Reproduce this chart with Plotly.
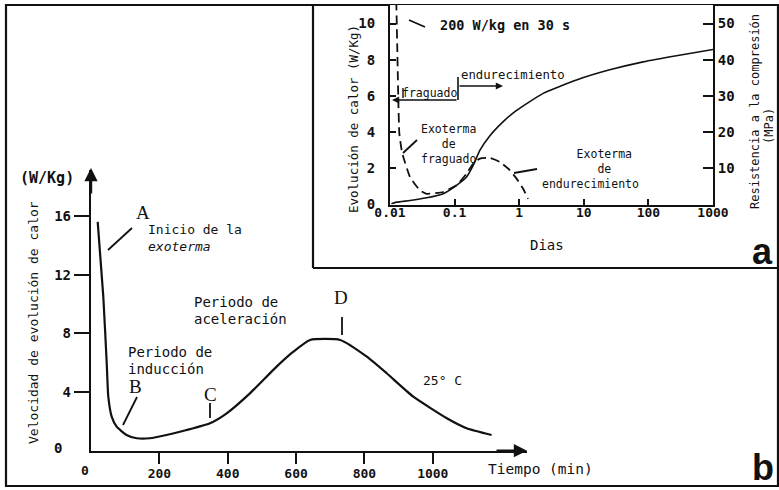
import plotly.graph_objects as go

# ---------------- data ----------------
# Main chart (b): heat evolution rate vs time
tiempo_min = [19.6, 36, 46, 50.6, 60.5, 75, 104, 134, 172, 221, 280, 348, 397, 465, 543, 592, 641,
              729, 807, 865, 943, 1041, 1099, 1172]
velocidad_wkg = [15.6, 10.5, 5.96, 3.68, 2.32, 1.64, 1.07, 0.85, 0.85, 1.07, 1.41, 1.87, 2.55, 3.91,
                 5.73, 6.75, 7.55, 7.55, 6.41, 5.28, 3.68, 2.21, 1.53, 1.07]
main_xticks = [200, 400, 600, 800, 1000]
main_yticks = [4, 8, 12, 16]

# Inset (a): heat evolution (dashed, left axis) and compressive strength (solid, right axis)
dias_calor = [0.01239, 0.01297, 0.01345, 0.01394, 0.01514, 0.01607, 0.0204, 0.0291, 0.0369, 0.0668,
              0.107, 0.153, 0.194, 0.247, 0.352, 0.502, 0.718, 0.91, 1.15, 1.37]
calor_wkg = [12.0, 8.56, 5.78, 3.93, 3.0, 2.63, 1.52, 0.78, 0.59, 0.69,
             1.06, 1.7, 2.26, 2.54, 2.57, 2.35, 1.89, 1.43, 0.87, 0.31]
dias_resist = [0.0105, 0.0127, 0.0204, 0.0369, 0.0668, 0.107, 0.153, 0.194, 0.247, 0.352, 0.566,
               0.91, 2.35, 7.7, 25.2, 82.8, 271, 1000]
resist_mpa = [0.2, 0.65, 1.1, 1.85, 3.0, 5.3, 7.6, 10.8, 15.0, 19.0, 22.9,
              26.0, 30.7, 34.4, 37.2, 39.4, 41.1, 42.8]
inset_xticks = [0.01, 0.1, 1, 10, 100, 1000]
inset_xticktext = ["0.01", "0.1", "1", "10", "100", "1000"]
inset_yticks_left = [0, 2, 4, 6, 8, 10]
inset_yticks_right = [10, 20, 30, 40, 50]

W, H = 779, 490
def PX(x):
    return x / W
def PY(y):
    return 1 - y / H

MONO = "DejaVu Sans Mono"
BLK = "#111111"

fig = go.Figure()

fig.add_trace(go.Scatter(x=tiempo_min, y=velocidad_wkg, mode="lines",
                         line=dict(color=BLK, width=2.2, shape="spline", smoothing=0.5),
                         xaxis="x", yaxis="y", showlegend=False, hoverinfo="skip"))
fig.add_trace(go.Scatter(x=dias_calor, y=calor_wkg, mode="lines",
                         line=dict(color=BLK, width=1.8, dash="9px,5px", shape="spline", smoothing=0.4),
                         xaxis="x2", yaxis="y2", showlegend=False, hoverinfo="skip"))
fig.add_trace(go.Scatter(x=dias_resist, y=resist_mpa, mode="lines",
                         line=dict(color=BLK, width=1.6, shape="spline", smoothing=0.5),
                         xaxis="x2", yaxis="y3", showlegend=False, hoverinfo="skip"))

# Main axes geometry
mx0, mx1 = 91, 527
my0, my1 = 450.7, 170
mxscale = 0.3418
myscale = 14.67
# Inset geometry
ix0, ix1 = 390, 713
iy0, iy1 = 204.5, 5
iyscale = 18.1

tick_font = dict(size=13, family=MONO, color=BLK, weight="bold")

fig.update_layout(
    template="none",
    width=W, height=H,
    margin=dict(l=0, r=0, t=0, b=0, pad=0, autoexpand=False),
    paper_bgcolor="white", plot_bgcolor="white",
    font=dict(family=MONO, color=BLK),
    xaxis=dict(domain=[PX(mx0), PX(mx1)], range=[0, (mx1 - mx0) / mxscale], anchor="y",
               automargin=False, showgrid=False, zeroline=False, showline=True, linewidth=2.4, linecolor=BLK,
               ticks="outside", ticklen=11, tickwidth=2, tickcolor=BLK, ticklabelstandoff=-2,
               tickvals=main_xticks, tickfont=tick_font),
    yaxis=dict(domain=[PY(my0), PY(my1)], range=[0, (my0 - my1) / myscale], anchor="x",
               automargin=False, showgrid=False, zeroline=False, showline=True, linewidth=2.4, linecolor=BLK,
               ticks="outside", ticklen=15, tickwidth=2, tickcolor=BLK,
               tickvals=main_yticks, tickfont=dict(size=14, family=MONO, color=BLK, weight="bold")),
    xaxis2=dict(domain=[PX(ix0), PX(ix1)], type="log", range=[-2, 3], anchor="y2",
                automargin=False, showgrid=False, zeroline=False, showline=True, linewidth=2, linecolor=BLK,
                ticks="inside", ticklen=6, tickwidth=2, tickcolor=BLK, ticklabelstandoff=-5,
                tickvals=inset_xticks, ticktext=inset_xticktext, tickfont=tick_font),
    yaxis2=dict(domain=[PY(iy0), PY(iy1)], range=[0, (iy0 - iy1) / iyscale], anchor="x2",
                automargin=False, showgrid=False, zeroline=False, showline=True, linewidth=2, linecolor=BLK,
                ticks="inside", ticklen=6, tickwidth=2, tickcolor=BLK, ticklabelstandoff=10,
                tickvals=inset_yticks_left, tickfont=dict(size=14, family=MONO, color=BLK, weight="bold")),
    yaxis3=dict(overlaying="y2", side="right", anchor="x2",
                range=[0, 5 * (iy0 - iy1) / iyscale],
                automargin=False, showgrid=False, zeroline=False, showline=True, linewidth=2, linecolor=BLK,
                ticks="inside", ticklen=10, tickwidth=2, tickcolor=BLK,
                tickvals=inset_yticks_right, tickfont=dict(size=14, family=MONO, color=BLK, weight="bold")),
)

shapes = []
def seg(x0, y0, x1, y1, w=1.8):
    shapes.append(dict(type="line", xref="paper", yref="paper",
                       x0=PX(x0), y0=PY(y0), x1=PX(x1), y1=PY(y1),
                       line=dict(color=BLK, width=w)))

# outer frame and inset frame
shapes.append(dict(type="rect", xref="paper", yref="paper", x0=PX(6), y0=PY(486), x1=PX(778), y1=PY(5),
                   line=dict(color=BLK, width=2.2), layer="below"))
seg(313, 5, 313, 268, 2.2)
seg(313, 268, 778, 268, 2.2)

# main leader lines
seg(132, 228, 108, 250)
seg(137, 397, 123, 425)
seg(210, 403, 210, 418)
seg(342, 317, 342, 335)
# inset leader lines and bracket
seg(409, 20, 425, 27)
seg(417, 140, 403, 153)
seg(514, 173, 537, 169)
seg(458, 77, 458, 100, 1.6)
seg(403, 88, 403, 98, 1.4)
fig.update_layout(shapes=shapes)

ann = []
def txt(x, y, s, size=13, xanchor="center", bold=False, family=MONO, angle=0, italic=False, align="center"):
    ann.append(dict(x=PX(x), y=PY(y), xref="paper", yref="paper", text=s, showarrow=False,
                    xanchor=xanchor, yanchor="middle", textangle=angle, align=align, borderpad=0,
                    font=dict(size=size, family=family, color=BLK,
                              weight="bold" if bold else "normal",
                              style="italic" if italic else "normal")))

def arrow(x_head, y_head, x_tail, y_tail, head=2, size=1.0, w=1.6):
    ann.append(dict(x=PX(x_head), y=PY(y_head), xref="paper", yref="paper",
                    ax=x_tail - x_head, ay=y_tail - y_head, axref="pixel", ayref="pixel",
                    text="", showarrow=True, arrowhead=head, arrowsize=size,
                    arrowwidth=w, arrowcolor=BLK))

# main axis arrows
arrow(527, my0, 495, my0, head=2, size=1.1, w=2.4)
arrow(mx0, 168, mx0, 195, head=2, size=1.1, w=2.4)
# inset bracket arrows
arrow(392, 100, 458, 100, head=2, size=0.9, w=1.6)
arrow(503, 86, 458, 86, head=2, size=0.9, w=1.6)

# main chart texts
txt(58, 448, "0", 14, bold=True)
txt(85, 470, "0", 13, bold=True)
txt(47, 178, "(W/Kg)", 15, bold=True)
txt(33, 323, "Velocidad de evolución de calor", 13, angle=-90)
txt(143, 212, "A", 19, family="Liberation Serif")
txt(135, 386, "B", 19, family="Liberation Serif")
txt(210, 394, "C", 19, family="Liberation Serif")
txt(341, 297, "D", 19, family="Liberation Serif")
txt(147, 229, "Inicio de la", 13, xanchor="left")
txt(147, 246, "exoterma", 13, xanchor="left", italic=True)
txt(193, 302, "Periodo de", 14, xanchor="left")
txt(193, 319, "aceleración", 14, xanchor="left")
txt(127, 352, "Periodo de", 14, xanchor="left")
txt(127, 369, "inducción", 14, xanchor="left")
txt(442, 380, "25° C", 13)
txt(540, 469, "Tiempo (min)", 14.5)
txt(763, 467, "b", 36, bold=True, family="Liberation Sans")

# inset texts
txt(505, 25, "200 W/kg en 30 s", 13.5, bold=True)
txt(460, 75, "endurecimiento", 12.3, xanchor="left")
txt(429, 93, "fraguado", 11.5)
txt(448, 144, "Exoterma<br>de<br>fraguado", 11.5)
txt(590, 169, "&nbsp;&nbsp;&nbsp;&nbsp;Exoterma<br>&nbsp;&nbsp;&nbsp;&nbsp;de<br>endurecimiento", 11.5)
txt(353, 119, "Evolución de calor (W/Kg)", 12.5, angle=-90)
txt(755, 112, "Resistencia a la compresión", 12, angle=-90)
txt(769, 126, "(MPa)", 12, angle=-90)
txt(547, 245, "Dias", 14)
txt(762, 251, "a", 36, bold=True, family="Liberation Sans")

fig.update_layout(annotations=ann)

fig.write_html("out.html", config={"displayModeBar": False},
               post_script="document.body.style.margin='0px';document.body.style.padding='0px';")
